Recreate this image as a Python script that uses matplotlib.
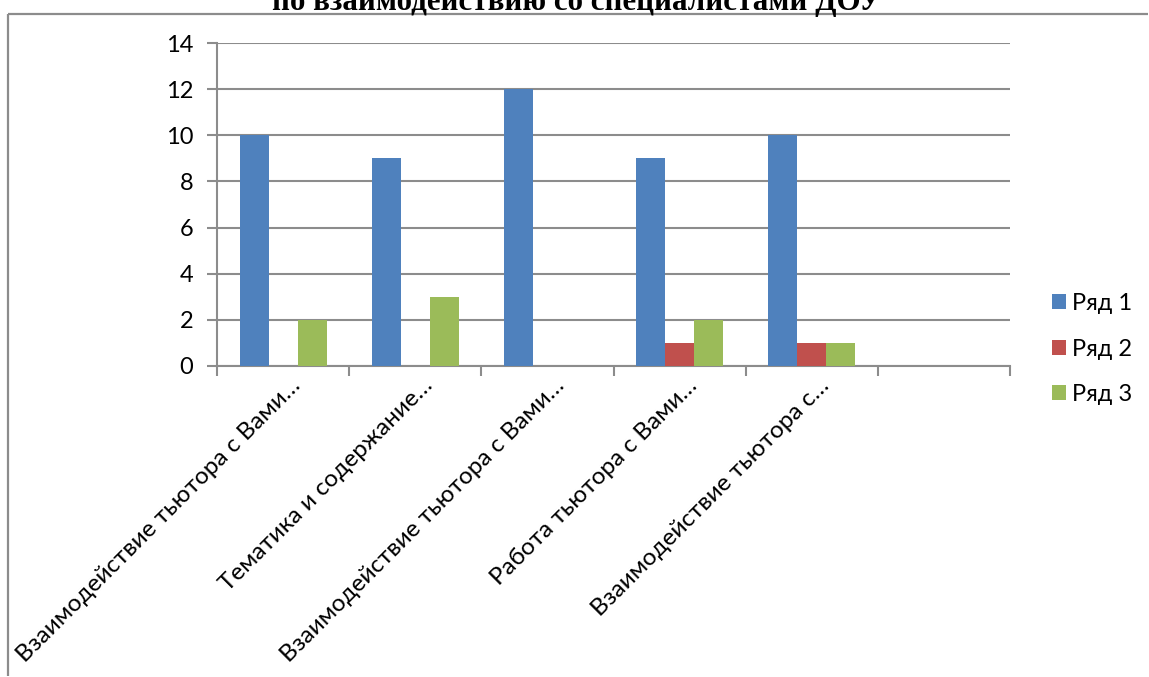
import matplotlib
matplotlib.use("Agg")
import matplotlib.pyplot as plt
from matplotlib.lines import Line2D
from matplotlib.transforms import ScaledTranslation
import numpy as np

categories = ["Взаимодействие тьютора с Вами…",
              "Тематика и содержание…",
              "Взаимодействие тьютора с Вами…",
              "Работа тьютора с Вами…",
              "Взаимодействие тьютора с…",
              ""]
series_names = ["Ряд 1", "Ряд 2", "Ряд 3"]
row1 = [10, 9, 12, 9, 10, np.nan]
row2 = [0, 0, 0, 1, 1, np.nan]
row3 = [2, 3, 0, 2, 1, np.nan]
colors = ["#4F81BD", "#C0504D", "#9BBB59"]
title = "по взаимодействию со специалистами ДОУ"
yticks = [0, 2, 4, 6, 8, 10, 12, 14]

W, H = 1149, 677
fig = plt.figure(figsize=(W / 100, H / 100), dpi=100)
fig.patch.set_facecolor("white")

# outer chart frame (top and left visible)
fy = 1 - 14 / H
fx = 8 / W
fig.add_artist(Line2D([fx, 0.999], [fy, fy], transform=fig.transFigure, color="#8C8C8C",
                      linewidth=1.6, solid_capstyle="butt"))
fig.add_artist(Line2D([fx, fx], [0.001, fy], transform=fig.transFigure, color="#8C8C8C",
                      linewidth=1.6, solid_capstyle="butt"))

fig.text(577 / W, 1 - 10 / H, title, ha="center", va="baseline",
         fontsize=22.3, fontweight="bold", family="Liberation Serif")

ax = fig.add_axes([217 / W, 1 - 366 / H, (1010 - 217) / W, (366 - 43) / H])
n = len(categories)
x = np.arange(n)
bw = 29 / 132
for i, (vals, c, name) in enumerate(zip([row1, row2, row3], colors, series_names)):
    ax.bar(x + (i - 1) * bw, vals, width=bw, color=c, label=name, zorder=3)

ax.set_xlim(-0.5, n - 0.5)
ax.set_ylim(0, 14)
ax.set_yticks(yticks)
ax.set_yticklabels([str(t) for t in yticks], fontsize=17, family="Lato")
ax.tick_params(axis="y", length=7, width=1.5, color="#8C8C8C", pad=10)
ax.yaxis.grid(True, color="#8C8C8C", linewidth=1.5, zorder=0)
ax.set_xticks(np.arange(n + 1) - 0.5, minor=False)
ax.set_xticklabels([])
ax.tick_params(axis="x", length=7, width=1.5, color="#8C8C8C")
ax.set_xticks(x, minor=True)
ax.set_xticklabels(categories, minor=True, rotation=45, ha="right", va="center",
                   rotation_mode="anchor", fontsize=17.5, family="Lato")
ax.tick_params(axis="x", which="minor", length=0, pad=13)
for lab in ax.get_xticklabels(minor=True):
    lab.set_transform(lab.get_transform() + ScaledTranslation(0.14, 0.02, fig.dpi_scale_trans))
for s in ["top", "right"]:
    ax.spines[s].set_visible(False)
for s in ["left", "bottom"]:
    ax.spines[s].set_color("#8C8C8C")
    ax.spines[s].set_linewidth(1.5)

ax.legend(loc="center left", bbox_to_anchor=(1031 / W, 1 - 349 / H), bbox_transform=fig.transFigure,
          frameon=False, prop={"family": "Lato", "size": 17},
          handlelength=0.6, handleheight=0.6, handletextpad=0.25, labelspacing=1.05)

fig.savefig("out.png", dpi=100)
